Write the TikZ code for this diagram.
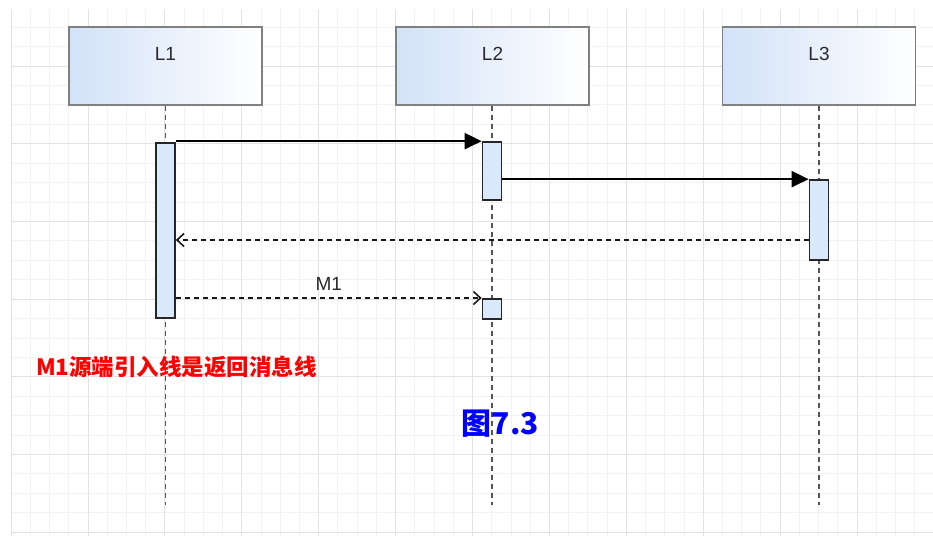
\documentclass[tikz,border=0pt]{standalone}
\usepackage{fontspec}
\setmainfont{Liberation Sans}
\newfontfamily\cjk{Noto Sans CJK SC}
\usetikzlibrary{arrows.meta}
\definecolor{gridminor}{HTML}{F2F2F2}
\definecolor{gridmajor}{HTML}{E2E2E2}
\definecolor{boxblue}{HTML}{D2E2F8}
\definecolor{barblue}{HTML}{DAE8FC}
\definecolor{boxline}{HTML}{808080}
\definecolor{lbltext}{HTML}{2A2A2A}
\definecolor{lifegray}{HTML}{555555}
\tikzset{
  headbox/.style={draw=boxline, line width=1.6pt, left color=boxblue, right color=white,
    minimum width=193pt, minimum height=78pt, inner sep=0pt},
  headlbl/.style={text=lbltext, font=\fontsize{19}{21}\selectfont, inner sep=0pt},
  actbar/.style={draw=black!85, line width=1.7pt, fill=barblue, inner sep=0pt, minimum width=19pt},
  lifeline/.style={draw=lifegray, line width=1.2pt, dash pattern=on 5pt off 4pt},
  syncmsg/.style={draw=black, line width=2pt, -{Triangle[length=17pt,width=16pt]}},
  retmsg/.style={draw=black!90, line width=1.7pt, dash pattern=on 5pt off 4pt,
    -{Straight Barb[length=7pt,width=13pt,line width=1.6pt]}},
}
\begin{document}
\begin{tikzpicture}[x=1pt,y=-1pt]
\useasboundingbox (0,0) rectangle (933,536);
\fill[white] (0,0) rectangle (933,536);
% grid
\foreach \i in {0,...,47} {
  \draw[gridminor, line width=0.9pt] ({11.1+19.225*\i},9) -- ({11.1+19.225*\i},536);
}
\foreach \j in {-2,...,24} {
  \draw[gridminor, line width=0.9pt] (11,{66+19.425*\j}) -- (933,{66+19.425*\j});
}
\foreach \i in {0,...,11} {
  \draw[gridmajor, line width=1pt] ({11.1+76.9*\i},9) -- ({11.1+76.9*\i},536);
}
\foreach \j in {0,...,6} {
  \draw[gridmajor, line width=1pt] (11,{66+77.7*\j}) -- (933,{66+77.7*\j});
}
% head boxes
\node[headbox] (L1) at (165.5,66) {};
\node[headbox] (L2) at (492.5,66) {};
\node[headbox] (L3) at (819,66) {};
\node[headlbl] (t1) at ([yshift=12pt]L1.center) {L1};
\node[headlbl] (t2) at ([yshift=12pt]L2.center) {L2};
\node[headlbl] (t3) at ([yshift=12pt]L3.center) {L3};
% lifeline ends
\coordinate (e1) at (165.5,505);
\coordinate (e2) at (492,505);
\coordinate (e3) at (819,505);
\draw[lifeline] (L1.south) -- (e1);
\draw[lifeline] (L2.south -| e2) -- (e2);
\draw[lifeline] (L3.south) -- (e3);
% activation bars
\node[actbar, minimum height=175pt] (a1) at (165.5,230.5) {};
\node[actbar, minimum height=58pt] (a2) at (492,171) {};
\node[actbar, minimum height=80pt] (a3) at (819,220) {};
\node[actbar, minimum height=20pt] (a4) at (492,309) {};
% messages
\draw[syncmsg] (a1.north east |- a2.north) -- (a2.north west);
\draw[syncmsg] (a2.east |- a3.north) -- (a3.north west);
\coordinate (y3) at (0,240);
\draw[retmsg] (a3.west |- y3) -- (a1.east |- y3);
\coordinate (y4) at (0,298);
\draw[retmsg] (a1.east |- y4) -- (a4.west |- y4) node[midway, above=7pt, headlbl] (m1) {M1};
% annotations
\node[text=red, font=\cjk\bfseries\fontsize{22.5}{24}\selectfont, inner sep=0pt] (note) at (176.5,367) {M1源端引入线是返回消息线};
\node[text=blue, font=\cjk\bfseries\fontsize{30}{32}\selectfont, inner sep=0pt] (fig) at (500.5,424) {图7.3};
\end{tikzpicture}
\end{document}
